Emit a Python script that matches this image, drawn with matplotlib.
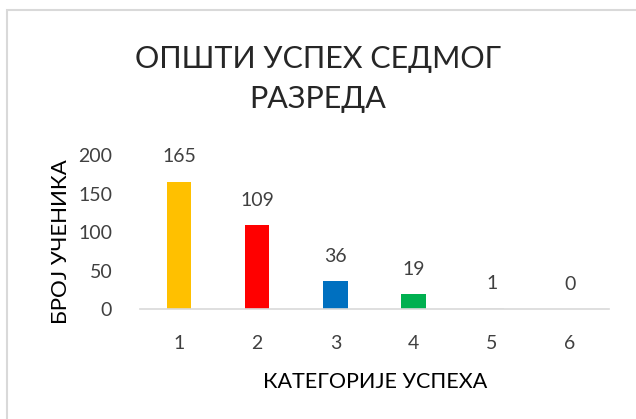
import matplotlib
matplotlib.use("Agg")
import matplotlib.pyplot as plt
from matplotlib.patches import Rectangle

categories = ["1", "2", "3", "4", "5", "6"]
values = [165, 109, 36, 19, 1, 0]
colors = ["#FFC000", "#FF0000", "#0070C0", "#00B050", "#E7E6E6", "#A5A5A5"]
yticks = [0, 50, 100, 150, 200]
title = "ОПШТИ УСПЕХ СЕДМОГ\nРАЗРЕДА"
xlabel = "КАТЕГОРИЈЕ УСПЕХА"
ylabel = "БРОЈ УЧЕНИКА"

plt.rcParams['font.family'] = ['Lato', 'DejaVu Sans']
W, H = 636, 419
fig = plt.figure(figsize=(W/100, H/100), dpi=100)
fig.patch.set_facecolor("white")

# outer frame (light gray) extending past right/bottom edges
fig.add_artist(Rectangle((7/W, -0.1), 1.2, (H-10)/H + 0.1, transform=fig.transFigure,
                         fill=False, edgecolor="#D9D9D9", linewidth=1.5))

ax = fig.add_axes([140/W, 1-309/H, (609-140)/W, (309-155)/H])
x = list(range(len(categories)))
bars = ax.bar(x, values, width=0.31, color=colors, zorder=1)
ax.set_xlim(-0.5, len(categories)-0.5)
ax.set_ylim(0, 200)
ax.set_yticks(yticks)
ax.set_xticks(x)
ax.set_xticklabels(categories)
for s in ["top", "right", "left"]:
    ax.spines[s].set_visible(False)
ax.spines["bottom"].set_color("#D9D9D9")
ax.spines["bottom"].set_linewidth(1.2)
ax.spines["bottom"].set_zorder(3)
ax.tick_params(axis="both", length=0, labelsize=14, colors="#404040")
ax.tick_params(axis="y", pad=20)
ax.tick_params(axis="x", pad=19)

for xi, v in zip(x, values):
    ax.annotate(str(v), (xi, v), xytext=(0, 18), textcoords="offset points",
                ha="center", va="center", fontsize=14, color="#404040")

fig.text(318/W, 1-79/H, title, ha="center", va="center", fontsize=22,
         color="#262626", linespacing=1.55)
fig.text(375/W, 1-382/H, xlabel, ha="center", va="center", fontsize=15.5, color="#000000")
fig.text(61/W, 1-242/H, ylabel, ha="center", va="center", rotation=90, fontsize=16, color="#000000")

fig.savefig("out.png", dpi=100)
